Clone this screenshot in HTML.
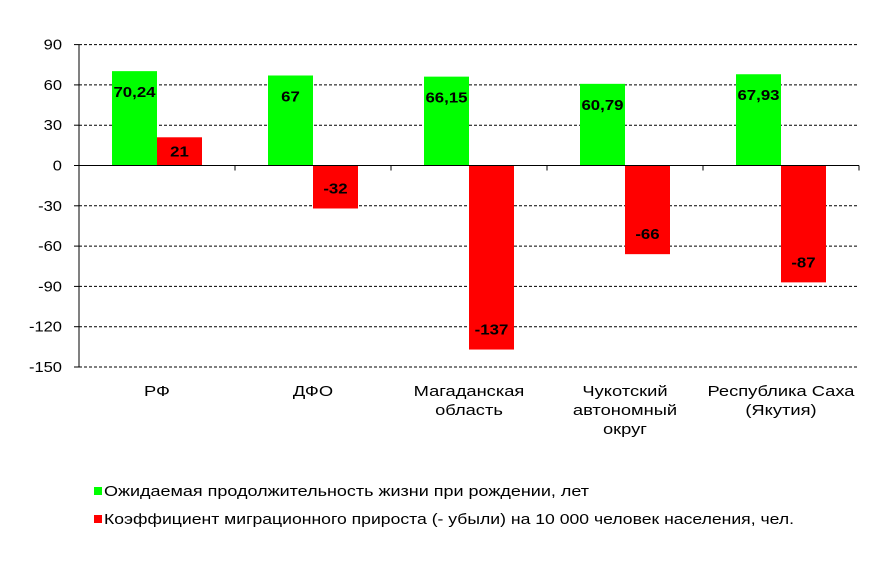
<!DOCTYPE html>
<html><head><meta charset="utf-8"><style>
body{margin:0;background:#fff;font-family:"Liberation Sans",sans-serif;}
svg text{font-family:"Liberation Sans",sans-serif;}
</style></head><body>
<svg id="c" width="886" height="561"></svg>
<script>
const categories=[["РФ"],["ДФО"],["Магаданская","область"],["Чукотский","автономный","округ"],["Республика Саха","(Якутия)"]];
const lifeExp=[70.24,67,66.15,60.79,67.93];
const lifeLabels=["70,24","67","66,15","60,79","67,93"];
const migration=[21,-32,-137,-66,-87];
const yTicks=[90,60,30,0,-30,-60,-90,-120,-150];
const NS="http://www.w3.org/2000/svg";
const svg=document.getElementById('c');
const x0=79,cw=156,bw=45;
const y=v=>165.5-v*(201.5/150);
function mk(t,a,p){const e=document.createElementNS(NS,t);for(const k in a)e.setAttribute(k,a[k]);(p||svg).appendChild(e);return e;}
function stretch(t,f){const w=t.getComputedTextLength();t.setAttribute('textLength',w*f);t.setAttribute('lengthAdjust','spacingAndGlyphs');}
yTicks.forEach(t=>{
 if(t!==0){const l=mk('line',{x1:x0,x2:859,y1:y(t),y2:y(t),stroke:'#000','stroke-width':1,'stroke-dasharray':'3,2'});
 
 }
 const tx=mk('text',{x:62,y:y(t)+5,'text-anchor':'end','font-size':15});tx.textContent=t;
 
 
 stretch(tx,1.1);
 mk('line',{x1:x0-5,x2:x0,y1:y(t),y2:y(t),stroke:'#000'});
});
const ax=mk('line',{x1:x0,x2:x0,y1:y(90),y2:y(-150),stroke:'#000'});


function label(txt,cx,cy){const t=mk('text',{x:cx,y:cy+5,'text-anchor':'middle','font-size':15,'font-weight':'bold'});t.textContent=txt;
 
 
 stretch(t,1.12);}
categories.forEach((c,i)=>{
 const cx=x0+cw*i+cw/2;
 const g=mk('rect',{x:cx-bw,y:y(lifeExp[i]),width:bw,height:y(0)-y(lifeExp[i]),fill:'#00ff00'});
 
 
 label(lifeLabels[i],cx-bw/2,y(lifeExp[i])+21);
 const m=migration[i],top=Math.min(y(m),y(0)),h=Math.abs(y(m)-y(0));
 const r=mk('rect',{x:cx,y:top,width:bw,height:h,fill:'#ff0000'});
 
 
 const off=Math.min(20,h/2);
 label(String(m),cx+bw/2,m>=0?y(m)+off:y(m)-off);
 c.forEach((ln,j)=>{const t=mk('text',{x:cx,y:396+j*19,'text-anchor':'middle','font-size':15});t.textContent=ln;
  
  
  stretch(t,1.22);});
 mk('line',{x1:x0+cw*(i+1),x2:x0+cw*(i+1),y1:y(0),y2:y(0)+5,stroke:'#000'});
});
const zl=mk('line',{x1:x0,x2:859,y1:y(0),y2:y(0),stroke:'#000'});


[["#00ff00","Ожидаемая продолжительность жизни при рождении, лет",492,485],["#ff0000","Коэффициент миграционного прироста (- убыли) на 10 000 человек населения, чел.",520,690]].forEach(([col,txt,yy,len])=>{
 const g=mk('g',{});
 
 
 mk('rect',{x:94,y:yy-5,width:8,height:8,fill:col},g);
 const t=mk('text',{x:104,y:yy+4,'font-size':14.5,textLength:len,lengthAdjust:'spacingAndGlyphs'},g);t.textContent=txt;
});
</script>
</body></html>
